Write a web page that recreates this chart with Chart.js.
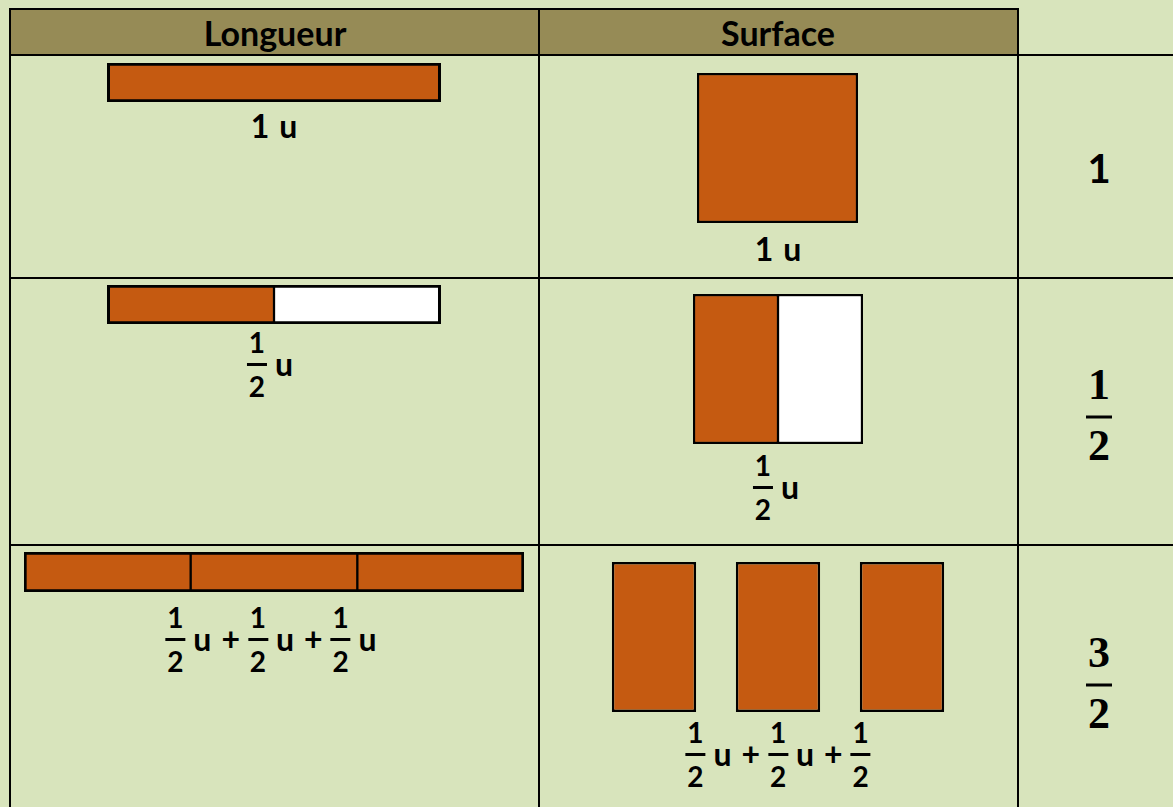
<!DOCTYPE html>
<html>
<head>
<meta charset="utf-8">
<script src="https://cdn.jsdelivr.net/npm/chart.js@4.4.0/dist/chart.umd.min.js"></script>
<style>
  html, body { margin: 0; padding: 0; }
  body {
    width: 1173px; height: 807px; overflow: hidden; position: relative;
    background: #D8E4BC; font-family: Lato, sans-serif; font-weight: bold; color: #000;
  }
  .line { position: absolute; background: #000; }
  .head { position: absolute; background: #968B56; left: 11px; top: 10px; width: 1006px; height: 44px; }
  .htext { position: absolute; top: 33px; font-size: 34px; transform: translate(-50%, -50%); line-height: 1; }
  .grp { position: absolute; display: flex; align-items: center; transform: translate(-50%, -50%); white-space: nowrap; }
  .grp .w { font-size: 32px; line-height: 1; margin: 0 5px; }
  .frac { display: inline-flex; flex-direction: column; align-items: center; font-size: 28px; line-height: 1; margin: 0 3px; }
  .frac .bar { width: 20px; height: 3px; background: #000; margin: 7px 0 6px; }
  .val { position: absolute; transform: translate(-50%, -50%); line-height: 1; }
  .val .w { font-size: 40px; }
  .val .frac { font-family: "Liberation Serif", serif; font-size: 44px; margin: 0; }
  .val .frac .bar { width: 26px; margin: 9px 0 5px; }
  canvas { position: absolute; }
</style>
</head>
<body>
<div class="head"></div>
<div class="htext" style="left:275px">Longueur</div>
<div class="htext" style="left:778px">Surface</div>
<div class="line" style="left:9px;top:8px;width:1010px;height:2px"></div>
<div class="line" style="left:9px;top:8px;width:2px;height:800px"></div>
<div class="line" style="left:538px;top:8px;width:2px;height:800px"></div>
<div class="line" style="left:1017px;top:8px;width:2px;height:800px"></div>
<div class="line" style="left:9px;top:54px;width:1164px;height:2px"></div>
<div class="line" style="left:9px;top:277px;width:1164px;height:2px"></div>
<div class="line" style="left:9px;top:544px;width:1164px;height:2px"></div>

<canvas id="len0" width="500" height="39" style="left:24px;top:63px"></canvas>
<canvas id="len1" width="500" height="39" style="left:24px;top:285px"></canvas>
<canvas id="len2" width="500" height="40" style="left:24px;top:552px"></canvas>
<canvas id="surf0" width="161" height="150" style="left:697px;top:73px"></canvas>
<canvas id="surf1" width="170" height="150" style="left:693px;top:294px"></canvas>
<canvas id="surf2" width="372" height="150" style="left:592px;top:562px"></canvas>

<script>
// one row per quantity: unit split into partsPerUnit pieces, partsFilled of them coloured
const partsPerUnit = [1, 2, 2];
const partsFilled = [1, 1, 3];
const lengthLabels = ['1 u', '1/2 u', '1/2 u + 1/2 u + 1/2 u'];
const surfaceLabels = ['1 u', '1/2 u', '1/2 u + 1/2 u + 1/2'];
const rowValues = ['1', '1/2', '3/2'];

const fillColor = '#C55A11';
const emptyColor = '#FFFFFF';

// label positions (center x, center y)
const lengthLabelPos = [[274, 126], [271, 364], [272, 639]];
const surfaceLabelPos = [[778, 249], [777, 487], [778, 754]];
const valuePos = [[1099, 168], [1099, 415], [1099, 683]];

function buildText(el, text) {
  text.split(' ').forEach(tok => {
    if (tok.includes('/')) {
      const [n, d] = tok.split('/');
      const f = document.createElement('span');
      f.className = 'frac';
      f.innerHTML = '<span>' + n + '</span><span class="bar"></span><span>' + d + '</span>';
      el.appendChild(f);
    } else {
      const s = document.createElement('span');
      s.className = 'w';
      s.textContent = tok;
      el.appendChild(s);
    }
  });
}

function place(cls, text, pos) {
  const d = document.createElement('div');
  d.className = cls;
  d.style.left = pos[0] + 'px';
  d.style.top = pos[1] + 'px';
  buildText(d, text);
  document.body.appendChild(d);
}

lengthLabels.forEach((t, i) => place('grp', t, lengthLabelPos[i]));
surfaceLabels.forEach((t, i) => place('grp', t, surfaceLabelPos[i]));
rowValues.forEach((t, i) => place('val', t, valuePos[i]));

const hidden = { display: false };
const baseOpts = {
  responsive: false,
  animation: false,
  devicePixelRatio: 1,
  layout: { padding: 0 },
  plugins: { legend: { display: false }, tooltip: { enabled: false } }
};

// length bars: segments of 1/partsPerUnit unit laid end to end, centred on the longest bar
const segCounts = partsPerUnit.map((p, i) => Math.max(p, partsFilled[i]));
const totals = segCounts.map((n, i) => n / partsPerUnit[i]);
const maxLen = Math.max(...totals);

segCounts.forEach((n, r) => {
  const seg = 1 / partsPerUnit[r];
  const start = (maxLen - totals[r]) / 2;
  const datasets = [];
  for (let i = 0; i < n; i++) {
    datasets.push({
      data: [[start + i * seg, start + (i + 1) * seg]],
      backgroundColor: i < partsFilled[r] ? fillColor : emptyColor,
      borderColor: '#000',
      borderWidth: { top: 3, bottom: 3, left: i === 0 ? 3 : 1.5, right: i === n - 1 ? 3 : 1.5 },
      borderSkipped: false,
      grouped: false,
      barPercentage: 1,
      categoryPercentage: 1
    });
  }
  new Chart(document.getElementById('len' + r), {
    type: 'bar',
    data: { labels: [''], datasets: datasets },
    options: Object.assign({}, baseOpts, {
      indexAxis: 'y',
      scales: {
        x: { type: 'linear', min: 0, max: maxLen, display: false },
        y: hidden
      }
    })
  });
});

// surface pieces: each piece is a full-height bar, pieces touch unless there are more than one unit
segCounts.forEach((n, r) => {
  const apart = partsFilled[r] > partsPerUnit[r];
  const colors = [];
  for (let i = 0; i < n; i++) colors.push(i < partsFilled[r] ? fillColor : emptyColor);
  new Chart(document.getElementById('surf' + r), {
    type: 'bar',
    data: {
      labels: colors.map(() => ''),
      datasets: [{
        data: colors.map(() => 1),
        backgroundColor: colors,
        borderColor: '#000',
        borderWidth: ctx => apart
          ? 2.5
          : { top: 2.5, bottom: 2.5, left: ctx.dataIndex === 0 ? 2.5 : 1.5, right: ctx.dataIndex === n - 1 ? 2.5 : 1.5 },
        borderSkipped: false,
        barPercentage: apart ? 0.68 : 1,
        categoryPercentage: 1
      }]
    },
    options: Object.assign({}, baseOpts, {
      scales: {
        x: hidden,
        y: { min: 0, max: 1, display: false }
      }
    })
  });
});
</script>
</body>
</html>
